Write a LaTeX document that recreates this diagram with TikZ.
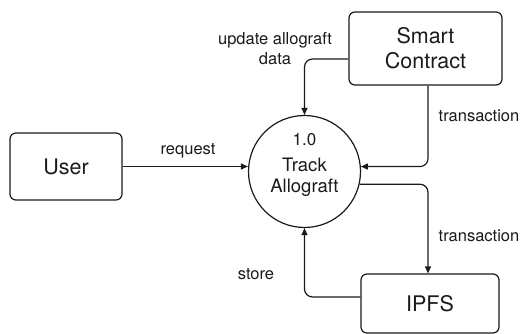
\documentclass[tikz,border=0pt]{standalone}
\usepackage{fontspec}
\setmainfont{TeX Gyre Heros}
\usetikzlibrary{arrows.meta,calc}
\definecolor{ink}{HTML}{1A1A1A}
\tikzset{
  entity/.style={draw=ink, line width=1.2pt, rounded corners=6pt, align=center,
    font=\fontsize{21.5}{25}\selectfont, text=ink, inner sep=0pt},
  process/.style={draw=ink, line width=1.2pt, circle, minimum size=112pt,
    inner sep=0pt, align=center, text=ink},
  flow/.style={draw=ink, line width=1.2pt, rounded corners=8pt,
    -{Triangle[length=7pt,width=6pt]}},
  flowlabel/.style={font=\fontsize{16.5}{20}\selectfont, text=ink, align=center, inner sep=0pt}
}
\begin{document}
\begin{tikzpicture}[x=1pt,y=-1pt]
  \useasboundingbox (0,0) rectangle (528,334);

  % external entities and the process
  \node[entity, minimum width=112pt, minimum height=67pt] (user) at (66,166.5) {User};
  \node[entity, minimum width=153pt, minimum height=73pt] (sc) at (425.5,48.5) {Smart\\Contract};
  \node[entity, minimum width=138pt, minimum height=59pt] (ipfs) at (430,303.5) {IPFS};
  \node[process] (proc) at (304.5,171.5) {};
  \node[text=ink, font=\fontsize{17}{20}\selectfont] (pnum) at (304.5,140) {1.0};
  \node[text=ink, font=\fontsize{18.5}{22}\selectfont, align=center] (pname) at (304.5,177.5) {Track\\[-1pt]Allograft};

  % data flows
  \draw[flow] (user.east) -- (proc.west |- user.east);
  \draw[flow] ([yshift=-10.5pt]sc.west) -| (proc.north);
  \draw[flow] ([xshift=2.5pt]sc.south) |- (proc.5);
  \draw[flow] (proc.-13) -| ([xshift=-2pt]ipfs.north);
  \draw[flow] ([yshift=6.5pt]ipfs.west) -| (proc.south);

  % flow labels
  \node[flowlabel] (lreq) at (188,151) {request};
  \node[flowlabel] (lupd) at (275,49) {update allograft\\data};
  \node[flowlabel] (ltx1) at (479,116) {transaction};
  \node[flowlabel] (ltx2) at (479,236) {transaction};
  \node[flowlabel] (lsto) at (256,274) {store};
\end{tikzpicture}
\end{document}
